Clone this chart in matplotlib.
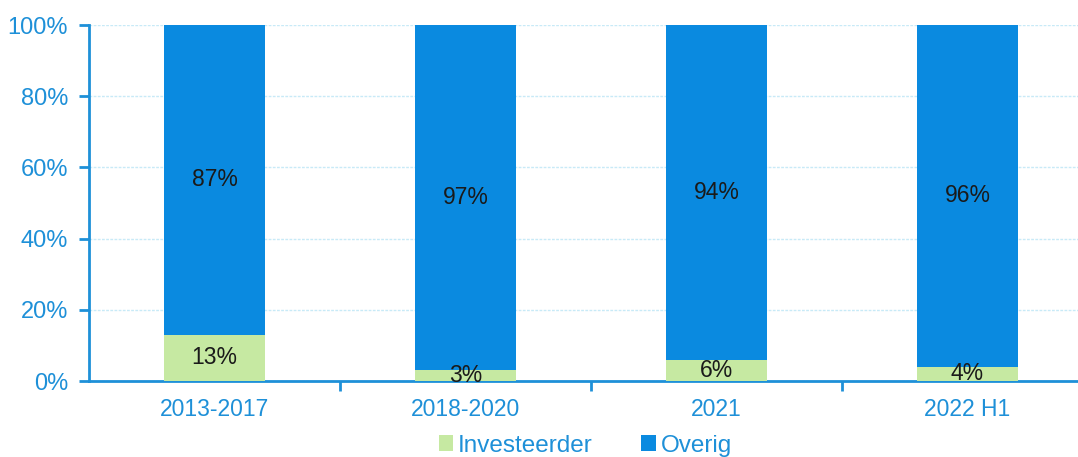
import matplotlib
matplotlib.use("Agg")
import matplotlib.pyplot as plt
from matplotlib.ticker import FuncFormatter

periodes = ["2013-2017", "2018-2020", "2021", "2022 H1"]
investeerder = [13, 3, 6, 4]
overig = [87, 97, 94, 96]

BLAUW = "#0a8ae0"
GROEN = "#c6e9a2"
AS_KLEUR = "#1e90d8"

plt.rcParams["font.family"] = ["Liberation Sans", "DejaVu Sans"]

fig = plt.figure(figsize=(10.78, 4.57), dpi=100)
ax = fig.add_axes([89 / 1078, 76 / 457, 1 - 89 / 1078, 356 / 457])

x = list(range(len(periodes)))
breedte = 0.4

ax.bar(x, investeerder, width=breedte, color=GROEN, label="Investeerder", zorder=3)
ax.bar(x, overig, width=breedte, bottom=investeerder, color=BLAUW, label="Overig", zorder=3)

# percentages midden in elk segment
for i in x:
    ax.text(i, investeerder[i] / 2, f"{investeerder[i]}%", ha="center", va="center",
            fontsize=16.5, color="#1a1a1a", zorder=4)
    ax.text(i, investeerder[i] + overig[i] / 2, f"{overig[i]}%", ha="center", va="center",
            fontsize=16.5, color="#1a1a1a", zorder=4)

ax.set_ylim(0, 100)
ax.set_xlim(-0.5, 3.5 - 15 / 251)
ax.set_yticks(range(0, 101, 20))
ax.yaxis.set_major_formatter(FuncFormatter(lambda v, p: f"{v:.0f}%"))

# categorielabels in het midden, streepjes tussen de categorieen
ax.set_xticks(x)
ax.set_xticklabels(periodes)
ax.set_xticks([0.5, 1.5, 2.5], minor=True)
ax.tick_params(axis="x", which="major", length=0, pad=12, labelsize=16.5, labelcolor=AS_KLEUR)
ax.tick_params(axis="x", which="minor", length=7, width=2, color=AS_KLEUR, direction="out")
ax.tick_params(axis="y", length=7, width=2, color=AS_KLEUR, labelsize=17,
               labelcolor=AS_KLEUR, pad=8)

ax.grid(axis="y", color="#c8eaf7", linewidth=1, linestyle=(0, (2, 1)), zorder=0)

for kant in ["top", "right"]:
    ax.spines[kant].set_visible(False)
for kant in ["left", "bottom"]:
    ax.spines[kant].set_color(AS_KLEUR)
    ax.spines[kant].set_linewidth(2)

fig.legend(loc="center", bbox_to_anchor=(0.543, 0.025), ncol=2, frameon=False,
           fontsize=17.5, labelcolor=AS_KLEUR, handlelength=0.6, handleheight=0.6,
           handletextpad=0.2, columnspacing=2.0)

fig.savefig("out.png", dpi=100, facecolor="white")
